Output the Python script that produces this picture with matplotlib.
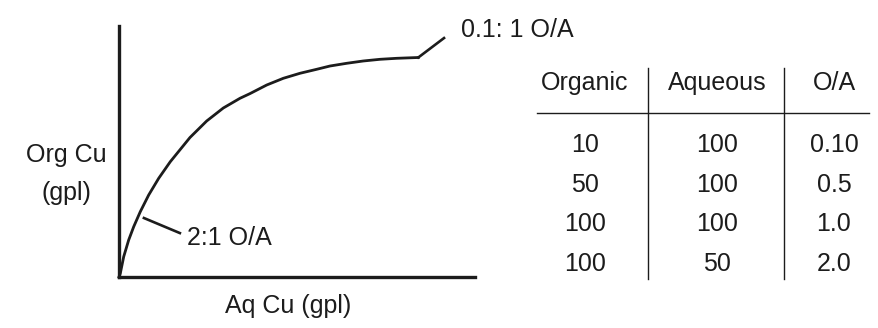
import matplotlib.pyplot as plt
from matplotlib.lines import Line2D

plt.rcParams['font.family'] = ['Liberation Sans', 'DejaVu Sans']

# equilibrium curve (arbitrary units, axes run 0-100)
aq_cu = [0, 0.37, 1.32, 2.72, 4.13, 5.98, 8.34, 11.15, 14.41, 19.94, 24.63, 29.30,
         33.99, 36.80, 41.49, 46.15, 50.84, 55.53, 59.27, 63.96, 68.62, 73.31, 78.01, 84.07]
org_cu = [0, 1.47, 8.09, 14.74, 20.04, 26.02, 32.67, 39.32, 45.94, 55.58, 62.15, 67.33,
          71.20, 73.07, 76.49, 79.16, 81.16, 82.75, 84.06, 85.14, 86.06, 86.73, 87.13, 87.45]

# leader lines for the two labelled points
lead_low_x = [7.0, 17.1]
lead_low_y = [23.5, 17.5]
lead_high_x = [84.07, 91.3]
lead_high_y = [87.45, 95.2]

# table
col_heads = ['Organic', 'Aqueous', 'O/A']
organic = ['10', '50', '100', '100']
aqueous = ['100', '100', '100', '50']
oa = ['0.10', '0.5', '1.0', '2.0']

W, H = 879, 328
ink = '#1c1c1c'
fs = 18


def px(x, y):
    return x / W, 1 - y / H


fig = plt.figure(figsize=(W / 100, H / 100), dpi=100)
ax = fig.add_axes([119 / W, 1 - 277 / H, (475 - 119) / W, (277 - 26) / H])
ax.set_xlim(0, 100)
ax.set_ylim(0, 100)
ax.plot(aq_cu, org_cu, color=ink, lw=2.0, solid_joinstyle='round', clip_on=False)
ax.plot(lead_low_x, lead_low_y, color=ink, lw=1.9, clip_on=False)
ax.plot(lead_high_x, lead_high_y, color=ink, lw=1.9, clip_on=False)
for s in ['top', 'right']:
    ax.spines[s].set_visible(False)
for s in ['left', 'bottom']:
    ax.spines[s].set_linewidth(2.4)
    ax.spines[s].set_color(ink)
ax.set_xticks([])
ax.set_yticks([])

fig.text(*px(66, 162), 'Org Cu', ha='center', va='baseline', fontsize=fs, color=ink)
fig.text(*px(66, 200), '(gpl)', ha='center', va='baseline', fontsize=fs, color=ink)
fig.text(*px(288, 313), 'Aq Cu (gpl)', ha='center', va='baseline', fontsize=fs, color=ink)
fig.text(*px(187, 245), '2:1 O/A', ha='left', va='baseline', fontsize=fs, color=ink)
fig.text(*px(461, 37), '0.1: 1 O/A', ha='left', va='baseline', fontsize=fs, color=ink)

# table
col_x = [585, 717, 834]
head_base = 90
row_base = [152, 192, 231, 271]
for cx, head in zip(col_x, col_heads):
    fig.text(*px(cx, head_base), head, ha='center', va='baseline', fontsize=fs, color=ink)
for col, cx in zip([organic, aqueous, oa], col_x):
    for val, rb in zip(col, row_base):
        fig.text(*px(cx, rb), val, ha='center', va='baseline', fontsize=fs, color=ink)

x0, y0 = px(537, 113)
x1, _ = px(869, 113)
fig.add_artist(Line2D([x0, x1], [y0, y0], color=ink, lw=1.0))
for vx in [648, 784]:
    a, b = px(vx, 68)
    _, c = px(vx, 279)
    fig.add_artist(Line2D([a, a], [b, c], color=ink, lw=1.0))

fig.savefig('out.png', dpi=100)
